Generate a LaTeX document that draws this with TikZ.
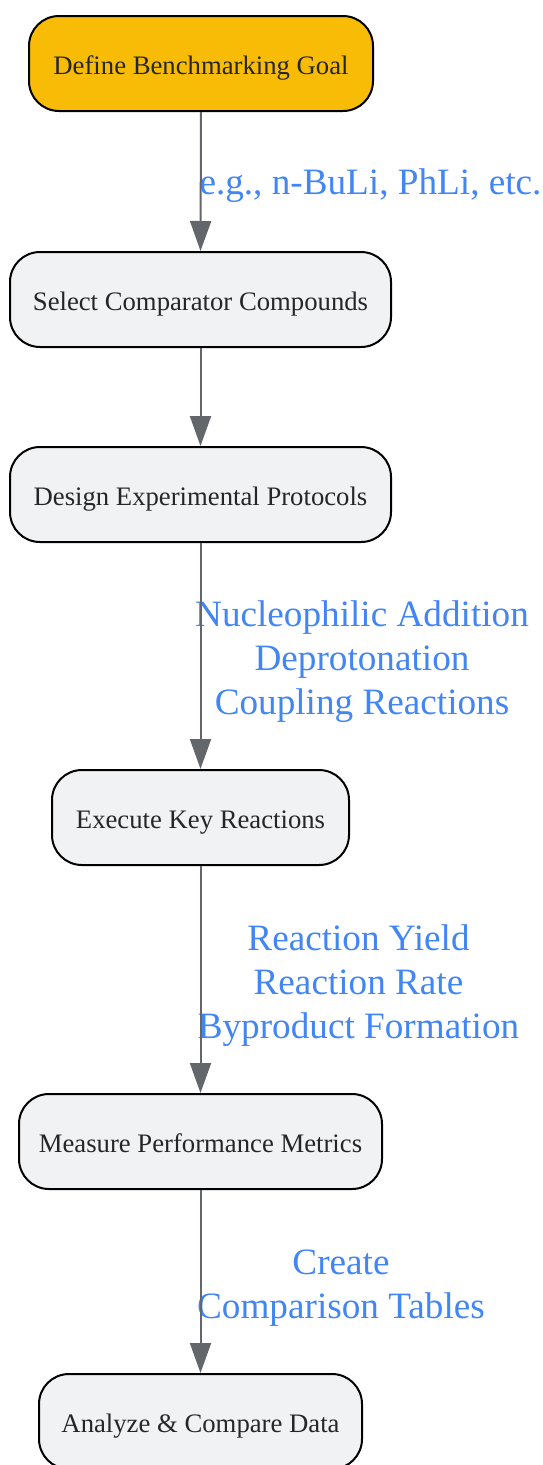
\documentclass[tikz,border=0pt]{standalone}
\usepackage{fontspec}
\setmainfont{Liberation Serif}
\usetikzlibrary{arrows.meta}
\definecolor{amber}{HTML}{F9BC06}
\definecolor{boxfill}{HTML}{F1F2F4}
\definecolor{edgegray}{HTML}{63666A}
\definecolor{lblblue}{HTML}{4285F4}
\definecolor{txt}{HTML}{262626}
\tikzset{
  flowbox/.style={draw=black, line width=2pt, fill=boxfill, rounded corners=30pt,
    minimum height=95pt, inner sep=0pt, text=txt,
    font=\fontsize{26.7}{31}\selectfont, text height=21pt, text depth=0pt},
  startbox/.style={flowbox, fill=amber},
  edge/.style={draw=edgegray, line width=2pt, -{Triangle[length=30pt,width=21pt]}},
  lbl/.style={text=lblblue, align=center, font=\fontsize{37.2}{44}\selectfont, inner sep=0pt}
}
\begin{document}
\begin{tikzpicture}[x=1pt,y=-1pt]
\useasboundingbox (0,0) rectangle (543,1465);
\node[startbox, minimum width=344pt] (n1) at (201,63.5) {Define Benchmarking Goal};
\node[flowbox, minimum width=381pt] (n2) at (200.5,299.5) {Select Comparator Compounds};
\node[flowbox, minimum width=381pt] (n3) at (200.5,494.5) {Design Experimental Protocols};
\node[flowbox, minimum width=297pt] (n4) at (200.5,817.5) {Execute Key Reactions};
\node[flowbox, minimum width=363pt] (n5) at (200.5,1141.5) {Measure Performance Metrics};
\node[flowbox, minimum width=323pt] (n6) at (200.5,1421.5) {Analyze \& Compare Data};

\node[lbl] (l1) at (370.5,186) {e.g., n-BuLi, PhLi, etc.};
\node[lbl] (l2) at (362,662) {Nucleophilic Addition\\Deprotonation\\Coupling Reactions};
\node[lbl] (l3) at (358.5,986) {Reaction Yield\\Reaction Rate\\Byproduct Formation};
\node[lbl] (l4) at (341,1288) {Create\\Comparison Tables};

\draw[edge] (n1.south) -- (n2.north);
\draw[edge] (n2.south) -- (n3.north);
\draw[edge] (n3.south) -- (n4.north);
\draw[edge] (n4.south) -- (n5.north);
\draw[edge] (n5.south) -- (n6.north);
\end{tikzpicture}
\end{document}
